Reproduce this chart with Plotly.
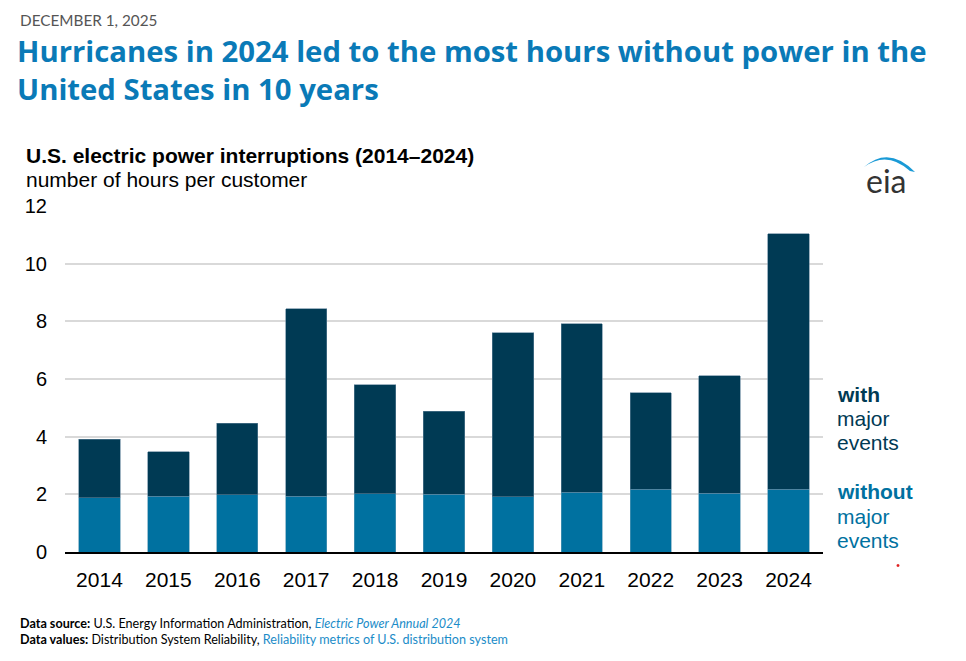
import plotly.graph_objects as go

years = ["2014", "2015", "2016", "2017", "2018", "2019", "2020", "2021", "2022", "2023", "2024"]
total_with_major = [3.91, 3.47, 4.46, 8.43, 5.80, 4.89, 7.60, 7.92, 5.53, 6.12, 11.04]
without_major = [1.89, 1.93, 1.98, 1.93, 2.02, 2.00, 1.91, 2.07, 2.17, 2.04, 2.17]
major_part = [round(t - w, 2) for t, w in zip(total_with_major, without_major)]
y_ticks = [0, 2, 4, 6, 8, 10, 12]

# page body has an 8px margin; work in reference pixel coordinates and shift
OFF = 8
W, H = 966 - OFF, 661 - OFF
L, R, T, B = 65, 823, 206, 552.5  # plot area in reference pixels

def px(x):
    return (x - L) / (R - L)

def py(y):
    return (B - y) / (B - T)

DARK = "#003a54"
LIGHT = "#0071a0"
TITLE_BLUE = "#0a7ab7"
LINK = "#1b8cc8"

fig = go.Figure()
fig.add_trace(go.Bar(x=years, y=without_major, name="without major events",
                     marker=dict(color=LIGHT, line=dict(width=0.6, color="#5d9bb8"))))
fig.add_trace(go.Bar(x=years, y=major_part, name="with major events",
                     customdata=total_with_major,
                     marker=dict(color=DARK, line=dict(width=0.6, color="#5d8197"))))

ann = []
def text(x, y, s, size, color="#000", family="Liberation Sans, Arial", xanchor="left", yanchor="middle", pad=1):
    ann.append(dict(x=px(x), y=py(y), xref="paper", yref="paper", text=s, showarrow=False,
                    xanchor=xanchor, yanchor=yanchor, align="left", borderpad=pad,
                    font=dict(size=size, color=color, family=family)))

text(18, 20, "DECEMBER 1, 2025", 15.3, color="#555555", family="Lato")
text(16, 70, "<b>Hurricanes in 2024 led to the most hours without power in the<br>United States in 10 years</b>",
     29.3, color=TITLE_BLUE, family="Open Sans", pad=0)
text(23.5, 155, "<b>U.S. electric power interruptions (2014–2024)</b>", 21)
text(23.5, 179, "number of hours per customer", 21)

text(835, 395, "<b>with</b>", 21, color=DARK)
text(835, 419, "major", 21, color=DARK)
text(835, 443, "events", 21, color=DARK)
text(835, 492, "<b>without</b>", 21, color=LIGHT)
text(835, 517, "major", 21, color=LIGHT)
text(835, 541, "events", 21, color=LIGHT)

text(18.5, 624, "<b>Data source:</b> U.S. Energy Information Administration, "
     f"<i><span style='color:{LINK}'>Electric Power Annual 2024</span></i>", 12.6, family="Lato", pad=0)
text(18.5, 640, "<b>Data values:</b> Distribution System Reliability, "
     f"<span style='color:{LINK}'>Reliability metrics of U.S. distribution system</span>", 12.6, family="Lato", pad=0)

# eia logo
text(885.5, 180, "eia", 32, color="#333333", family="Lato", xanchor="center")

def P(x, y):
    return f"{px(x):.5f},{py(y):.5f}"

arc = (f"M {P(864,167)} Q {P(889,145)} {P(915,172)} "
       f"L {P(910,171)} Q {P(887,150)} {P(864,167)} Z")
shapes = [dict(type="path", xref="paper", yref="paper", path=arc,
               fillcolor="#1a9ad6", line=dict(width=0)),
          dict(type="circle", xref="paper", yref="paper",
               x0=px(896.5), x1=px(899.5), y0=py(564.5), y1=py(567.5),
               fillcolor="#e02020", line=dict(width=0))]

fig.update_layout(
    width=W, height=H,
    barmode="stack", bargap=0.4,
    showlegend=False,
    plot_bgcolor="white", paper_bgcolor="white",
    margin=dict(l=L - OFF, r=W - (R - OFF), t=T - OFF, b=H - (B - OFF), pad=0),
    font=dict(family="Liberation Sans, Arial", size=20, color="#000"),
    annotations=ann, shapes=shapes,
    xaxis=dict(showline=True, linecolor="#000", linewidth=1.5, ticks="",
               tickfont=dict(size=21), ticklabelstandoff=8, fixedrange=True),
    yaxis=dict(range=[0, 12], tickvals=y_ticks, gridcolor="#d9d9d9", gridwidth=1.5,
               zeroline=False, showline=False, ticks="", tickfont=dict(size=20),
               ticklabelstandoff=17, fixedrange=True),
)

fig.write_html("out.html")
